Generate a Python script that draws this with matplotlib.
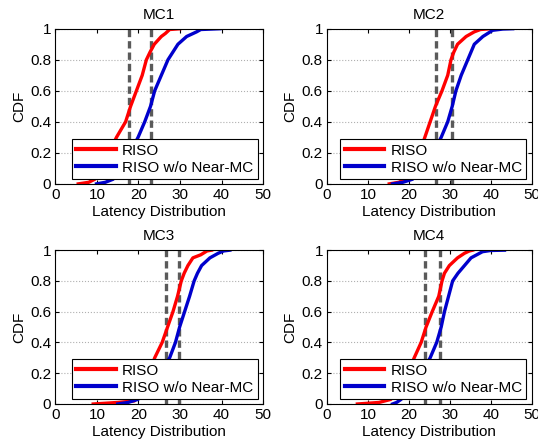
import matplotlib
matplotlib.use('Agg')
import matplotlib.pyplot as plt

plt.rcParams['font.family'] = ['Liberation Sans', 'DejaVu Sans']
plt.rcParams['font.size'] = 11

titles = ['MC1', 'MC2', 'MC3', 'MC4']

# latency values, with the CDF level they sit at
riso_lat = [
    [5.5, 8.0, 9.5, 12.0, 14.7, 16.9, 18.1, 19.5, 20.9, 21.9, 22.8, 23.8, 25.5, 26.5, 27.5, 30.0],
    [15.2, 17.5, 19.3, 22.0, 23.9, 25.2, 26.5, 28.1, 29.5, 30.3, 31.0, 31.9, 34.0, 36.0, 37.5, 40.0],
    [9.1, 15.0, 19.0, 22.0, 23.9, 25.7, 27.0, 28.3, 29.4, 30.3, 31.0, 31.9, 33.1, 35.0, 36.5, 37.6],
    [7.4, 12.7, 15.6, 19.0, 21.3, 23.0, 24.2, 25.7, 27.3, 28.1, 28.7, 29.9, 31.9, 33.6, 34.8, 35.6],
]
riso_cdf = [
    [0, 0.01, 0.03, 0.15, 0.3, 0.4, 0.5, 0.6, 0.7, 0.8, 0.85, 0.9, 0.95, 0.97, 0.995, 1.0],
    [0, 0.01, 0.03, 0.15, 0.3, 0.4, 0.5, 0.6, 0.7, 0.8, 0.85, 0.9, 0.95, 0.98, 0.995, 1.0],
    [0, 0.01, 0.02, 0.15, 0.3, 0.4, 0.5, 0.6, 0.7, 0.8, 0.85, 0.9, 0.95, 0.97, 0.995, 1.0],
    [0, 0.01, 0.03, 0.15, 0.3, 0.4, 0.5, 0.6, 0.7, 0.8, 0.85, 0.9, 0.95, 0.98, 0.995, 1.0],
]
nomc_lat = [
    [9.9, 12.0, 13.9, 17.0, 19.9, 21.5, 22.9, 23.9, 25.5, 27.1, 28.3, 29.5, 31.6, 34.0, 35.0, 39.6],
    [16.0, 18.5, 20.9, 25.0, 27.9, 29.5, 30.6, 31.5, 32.8, 34.4, 35.2, 36.0, 38.1, 40.5, 43.0, 45.4],
    [15.0, 17.5, 19.9, 24.0, 27.5, 28.9, 29.9, 31.1, 32.3, 33.4, 34.2, 35.2, 37.2, 39.2, 40.5, 42.0],
    [16.0, 17.0, 18.1, 22.0, 25.2, 26.8, 27.9, 28.7, 29.7, 30.7, 32.0, 33.6, 35.2, 38.0, 40.0, 43.4],
]
nomc_cdf = [
    [0, 0.01, 0.03, 0.15, 0.3, 0.4, 0.5, 0.6, 0.7, 0.8, 0.85, 0.9, 0.95, 0.98, 0.995, 1.0],
    [0, 0.01, 0.03, 0.15, 0.3, 0.4, 0.5, 0.6, 0.7, 0.8, 0.85, 0.9, 0.95, 0.99, 0.998, 1.0],
    [0, 0.01, 0.03, 0.15, 0.3, 0.4, 0.5, 0.6, 0.7, 0.8, 0.85, 0.9, 0.95, 0.98, 0.995, 1.0],
    [0, 0.01, 0.03, 0.15, 0.3, 0.4, 0.5, 0.6, 0.7, 0.8, 0.85, 0.9, 0.95, 0.99, 0.998, 1.0],
]
# medians (dashed lines)
median_riso = [17.7, 26.6, 26.7, 24.0]
median_nomc = [23.0, 30.6, 29.7, 27.6]

fig = plt.figure(figsize=(5.38, 4.42), dpi=100)
positions = [
    [0.103, 0.584, 0.386, 0.351],
    [0.608, 0.584, 0.380, 0.351],
    [0.103, 0.086, 0.386, 0.348],
    [0.608, 0.086, 0.380, 0.348],
]

for i in range(4):
    ax = fig.add_axes(positions[i])
    for m in (median_riso[i], median_nomc[i]):
        ax.axvline(m, color='#5a5a5a', lw=2.4, dashes=(2.2, 1.2), zorder=1)
    ax.plot(riso_lat[i], riso_cdf[i], color='#ff0000', lw=2.4, label='RISO', zorder=2)
    ax.plot(nomc_lat[i], nomc_cdf[i], color='#0000cc', lw=2.4, label='RISO w/o Near-MC', zorder=2)
    ax.set_xlim(0, 50)
    ax.set_ylim(0, 1)
    ax.set_xticks([0, 10, 20, 30, 40, 50])
    ax.set_yticks([0, 0.2, 0.4, 0.6, 0.8, 1])
    ax.set_yticklabels(['0', '0.2', '0.4', '0.6', '0.8', '1'])
    ax.yaxis.grid(True, linestyle=':', color='#b0b0b0', lw=0.8)
    ax.set_axisbelow(True)
    ax.tick_params(direction='in', top=True, right=True, length=3, labelsize=11, pad=3)
    for s in ax.spines.values():
        s.set_linewidth(0.8)
    ax.set_title(titles[i], fontsize=11, pad=7)
    ax.set_xlabel('Latency Distribution', fontsize=11, labelpad=2)
    ax.set_ylabel('CDF', fontsize=11, labelpad=3)
    leg = ax.legend(loc='lower right', bbox_to_anchor=(0.975, 0.03), fontsize=11,
                    frameon=True, fancybox=False, edgecolor='black', framealpha=1,
                    handlelength=2.6, handletextpad=0.4, labelspacing=0.2,
                    borderpad=0.3, borderaxespad=0)
    leg.get_frame().set_linewidth(0.8)
    for line in leg.get_lines():
        line.set_linewidth(3)

fig.savefig('out.png', dpi=100)
